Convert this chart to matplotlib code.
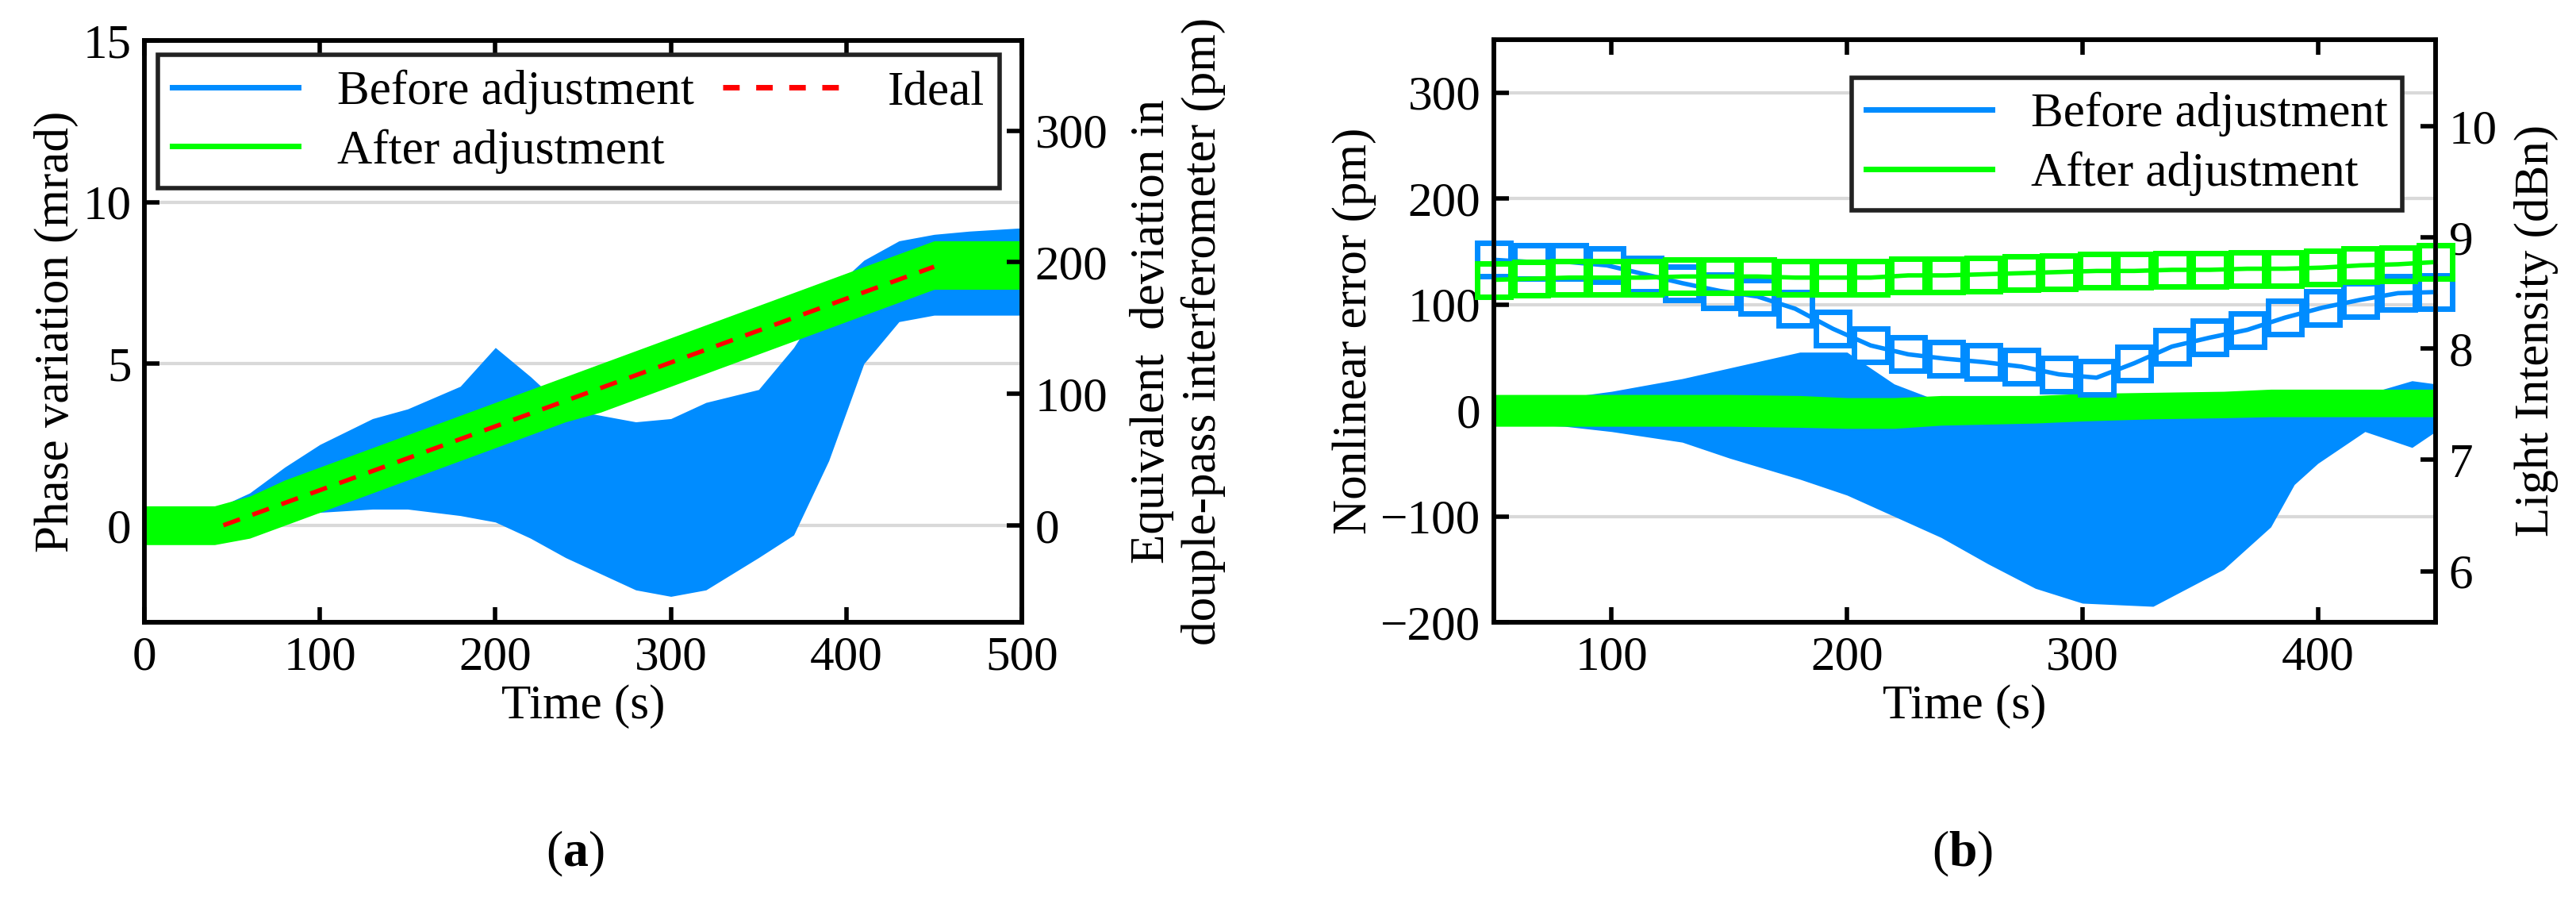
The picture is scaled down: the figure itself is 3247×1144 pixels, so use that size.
import matplotlib
matplotlib.use('Agg')
import matplotlib.pyplot as plt
from matplotlib.lines import Line2D

plt.rcParams['font.family'] = ['Liberation Serif', 'DejaVu Serif']
plt.rcParams['font.size'] = 44
plt.rcParams['mathtext.fontset'] = 'custom'
plt.rcParams['mathtext.bf'] = 'Liberation Serif:bold'
plt.rcParams['mathtext.rm'] = 'Liberation Serif'

BLUE = '#008cff'
GREEN = '#00ff00'
GRID = '#d9d9d9'

# ---- panel (a): phase variation envelopes (mrad)
a_time = [0, 40, 60, 80, 100, 130, 150, 180, 200, 220, 240, 260, 280, 300,
          320, 350, 370, 390, 410, 430, 450, 470, 500]
a_before_hi = [0.5, 0.5, 1.0, 1.8, 2.5, 3.3, 3.6, 4.3, 5.5, 4.6, 3.6, 3.4, 3.2, 3.3,
               3.8, 4.2, 5.5, 7.2, 8.2, 8.8, 9.0, 9.1, 9.2]
a_before_lo = [-0.5, -0.5, -0.3, 0.2, 0.4, 0.5, 0.5, 0.3, 0.1, -0.4, -1.0, -1.5, -2.0, -2.2,
               -2.0, -1.0, -0.3, 2.0, 5.0, 6.3, 6.5, 6.5, 6.5]
a_after_hi = [0.6, 0.6, 0.9, 1.4, 1.8, 2.4, 2.8, 3.4, 3.8, 4.2, 4.6, 5.0, 5.4, 5.8,
              6.2, 6.8, 7.2, 7.6, 8.0, 8.4, 8.8, 8.8, 8.8]
a_after_lo = [-0.6, -0.6, -0.4, 0.0, 0.4, 1.0, 1.4, 2.0, 2.4, 2.8, 3.2, 3.5, 3.9, 4.3,
              4.7, 5.3, 5.7, 6.1, 6.5, 6.9, 7.3, 7.3, 7.3]
ideal_time = [45, 450]
ideal_phase = [0, 8]

# ---- panel (b): nonlinear error envelopes (pm)
b_time = [50, 80, 100, 130, 150, 180, 200, 220, 240, 260, 280, 300, 330,
          360, 380, 390, 400, 420, 440, 450]
b_before_hi = [12, 12, 18, 30, 40, 55, 55, 25, 8, 5, 5, 5, 5, 8, 10, 10, 12, 15, 28, 25]
b_before_lo = [-12, -15, -20, -30, -45, -65, -80, -100, -120, -145, -168, -182, -185,
               -150, -110, -70, -50, -20, -35, -20]
b_after_hi = [15, 15, 15, 15, 15, 14, 12, 12, 14, 14, 14, 16, 17, 18, 20, 20, 20, 20, 20, 20]
b_after_lo = [-15, -15, -15, -15, -15, -16, -17, -17, -14, -13, -12, -10, -8, -7, -6, -6, -6, -6, -6, -6]

li_time = [50, 66, 82, 98, 114, 130, 146, 162, 178, 194, 210, 226, 242, 258, 274,
           290, 306, 322, 338, 354, 370, 386, 402, 418, 434, 450]
li_before = [8.80, 8.78, 8.78, 8.75, 8.67, 8.59, 8.52, 8.47, 8.36, 8.18, 8.03, 7.95, 7.91,
             7.88, 7.84, 7.77, 7.74, 7.87, 8.02, 8.10, 8.17, 8.28, 8.37, 8.44, 8.50, 8.51]
li_after = [8.62, 8.63, 8.64, 8.64, 8.64, 8.65, 8.65, 8.65, 8.64, 8.64, 8.64, 8.66, 8.66,
            8.67, 8.68, 8.69, 8.70, 8.70, 8.71, 8.71, 8.72, 8.72, 8.73, 8.75, 8.76, 8.78]


def style(ax, twin):
    for a in (ax, twin):
        for s in a.spines.values():
            s.set_linewidth(4)
    ax.tick_params(direction='in', length=14, width=4, top=True, right=False, pad=12)
    twin.tick_params(direction='in', length=14, width=4, pad=12)
    ax.grid(axis='y', color=GRID, lw=3)
    ax.set_axisbelow(True)


W, H = 3248, 1144
fig = plt.figure(figsize=(W / 100, H / 100), dpi=100)

# (a)
ax1 = fig.add_axes([182 / W, 1 - 784 / H, (1288 - 182) / W, (784 - 51) / H])
ax1.fill_between(a_time, a_before_lo, a_before_hi, color=BLUE, lw=0)
ax1.fill_between(a_time, a_after_lo, a_after_hi, color=GREEN, lw=0)
ax1.plot(ideal_time, ideal_phase, '--', color='red', lw=4, dashes=(4, 3))
ax1.set_xlim(0, 500)
ax1.set_ylim(-3, 15)
ax1.set_xticks([0, 100, 200, 300, 400, 500])
ax1.set_yticks([0, 5, 10, 15])
ax1.set_xlabel('Time (s)', labelpad=4)
ax1.set_ylabel('Phase variation (mrad)')
t1 = ax1.twinx()
t1.set_ylim(-3 / 0.0407, 15 / 0.0407)
t1.set_yticks([0, 100, 200, 300])
t1.set_ylabel('Equivalent  deviation in\ndouple-pass interferometer (pm)', labelpad=20)
style(ax1, t1)
h = [Line2D([], [], color=BLUE, lw=5), Line2D([], [], color=GREEN, lw=5),
     Line2D([], [], color='red', lw=5, ls='--', dashes=(3, 3))]
leg = ax1.legend(h, ['Before adjustment', 'After adjustment', 'Ideal'], ncol=2,
                 loc='upper left', bbox_to_anchor=(0.015, 0.975), fancybox=False,
                 framealpha=1, edgecolor='#222222', handlelength=2.6,
                 columnspacing=0.6, borderaxespad=0, labelspacing=0.3, borderpad=0.3)
leg.get_frame().set_linewidth(4)

# (b)
ax2 = fig.add_axes([1883 / W, 1 - 784 / H, (3070 - 1883) / W, (784 - 50) / H])
ax2.fill_between(b_time, b_before_lo, b_before_hi, color=BLUE, lw=0)
ax2.fill_between(b_time, b_after_lo, b_after_hi, color=GREEN, lw=0)
ax2.set_xlim(50, 450)
ax2.set_ylim(-200, 350)
ax2.set_xticks([100, 200, 300, 400])
ax2.set_yticks([-200, -100, 0, 100, 200, 300])
ax2.set_xlabel('Time (s)', labelpad=4)
ax2.set_ylabel('Nonlinear error (pm)')
t2 = ax2.twinx()
t2.plot(li_time, li_before, '-s', color=BLUE, lw=4, ms=30, mfc='none', mew=5, clip_on=False)
t2.plot(li_time, li_after, '-s', color=GREEN, lw=4, ms=30, mfc='none', mew=5, clip_on=False)
t2.set_ylim(5.54, 10.78)
t2.set_yticks([6, 7, 8, 9, 10])
t2.set_ylabel('Light Intensity (dBn)', labelpad=15)
style(ax2, t2)
leg2 = ax2.legend(h[:2], ['Before adjustment', 'After adjustment'],
                  loc='upper right', bbox_to_anchor=(0.965, 0.935), fancybox=False,
                  framealpha=1, edgecolor='#222222', handlelength=2.6, borderaxespad=0,
                  labelspacing=0.3, borderpad=0.3)
leg2.get_frame().set_linewidth(4)

fig.text(725 / W, 1 - 1076 / H, r'($\mathbf{a}$)', ha='center', va='center', fontsize=46)
fig.text(2474 / W, 1 - 1076 / H, r'($\mathbf{b}$)', ha='center', va='center', fontsize=46)

fig.savefig('out.png', dpi=100, facecolor='white')
